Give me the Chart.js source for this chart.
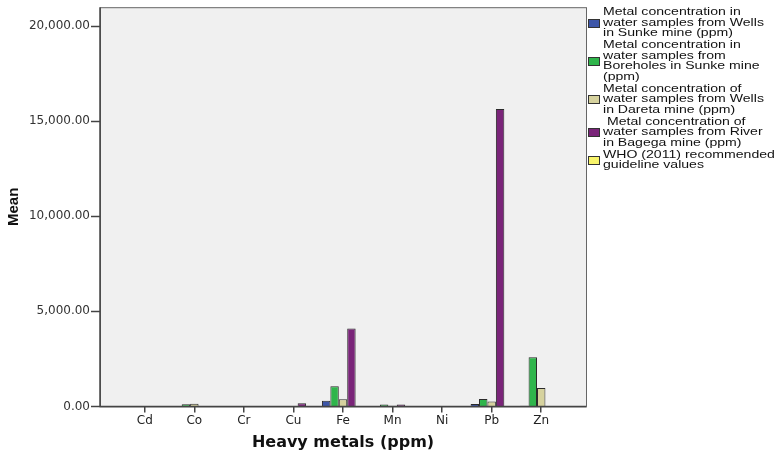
<!DOCTYPE html>
<html>
<head>
<meta charset="utf-8">
<script src="https://cdn.jsdelivr.net/npm/chart.js@4.4.0/dist/chart.umd.min.js"></script>
<style>
  html, body { margin: 0; padding: 0; background: #fff; }
  #wrap { width: 774px; height: 454px; }
</style>
</head>
<body>
<div id="wrap"><canvas id="metalChart"></canvas></div>
<script>
// Categories and series (mean, ppm)
var metals = ['Cd', 'Co', 'Cr', 'Cu', 'Fe', 'Mn', 'Ni', 'Pb', 'Zn'];
var wellsSunke = [1, 20, 5, 5, 300, 20, 5, 120, 30];
var boreholesSunke = [2, 110, 10, 10, 1060, 100, 5, 390, 2580];
var wellsDareta = [2, 140, 10, 10, 380, 30, 5, 260, 970];
var riverBagega = [3, 10, 5, 170, 4100, 100, 10, 15650, 20];
var whoGuideline = [0.003, 0.05, 0.05, 2, 0.3, 0.4, 0.07, 0.01, 3];

var seriesLabels = [
    ['Metal concentration in', 'water samples from Wells', 'in Sunke mine (ppm)'],
    ['Metal concentration in', 'water samples from', 'Boreholes in Sunke mine', '(ppm)'],
    ['Metal concentration of', 'water samples from Wells', 'in Dareta mine (ppm)'],
    [' Metal concentration of', 'water samples from River', 'in Bagega mine (ppm)'],
    ['WHO (2011) recommended', 'guideline values']
];
var seriesColors = ['#3d56a8', '#2fb54b', '#d6d29e', '#7a2479', '#f8f46a'];
var yTicks = [0, 5000, 10000, 15000, 20000];

var FRAME_PAD = 20; // grey plot frame extends past the category area

// Grey frame, axis lines and y tick marks
var framePlugin = {
    id: 'frame',
    beforeDraw: function (chart) {
        var ctx = chart.ctx, a = chart.chartArea;
        var left = a.left - FRAME_PAD, right = a.right + FRAME_PAD;
        ctx.save();
        ctx.fillStyle = '#f0f0f0';
        ctx.fillRect(left, a.top, right - left, a.bottom - a.top);
        ctx.strokeStyle = '#666';
        ctx.lineWidth = 1;
        ctx.strokeRect(left + 0.5, a.top + 0.5, right - left, a.bottom - a.top);
        ctx.restore();
    },
    afterDraw: function (chart) {
        var ctx = chart.ctx, a = chart.chartArea;
        var left = a.left - FRAME_PAD, right = a.right + FRAME_PAD;
        var y = chart.scales.y;
        ctx.save();
        ctx.strokeStyle = '#444';
        ctx.lineWidth = 1.5;
        ctx.beginPath();
        ctx.moveTo(left, a.top);
        ctx.lineTo(left, a.bottom);
        ctx.lineTo(right, a.bottom);
        ctx.stroke();
        yTicks.forEach(function (v) {
            var py = Math.round(y.getPixelForValue(v)) + 0.5;
            ctx.beginPath();
            ctx.moveTo(left - 9, py);
            ctx.lineTo(left, py);
            ctx.stroke();
        });
        ctx.restore();
    }
};

// Legend on the right, multi-line entries
var legendPlugin = {
    id: 'sideLegend',
    afterDraw: function (chart) {
        var ctx = chart.ctx;
        var stretch = 1.28;
        var lineH = 10.5;
        var y = 12;
        ctx.save();
        ctx.font = '11px "Liberation Sans", Arial, sans-serif';
        ctx.textBaseline = 'middle';
        chart.data.datasets.forEach(function (ds, i) {
            var lines = seriesLabels[i];
            var mid = y + (lines.length - 1) * lineH / 2;
            ctx.fillStyle = ds.backgroundColor;
            ctx.fillRect(588, Math.round(mid - 4), 12, 9);
            ctx.strokeStyle = '#333';
            ctx.lineWidth = 1;
            ctx.strokeRect(588.5, Math.round(mid - 4) + 0.5, 11, 8);
            ctx.fillStyle = '#111';
            ctx.save();
            ctx.scale(stretch, 1);
            lines.forEach(function (t, k) {
                ctx.fillText(t, 603 / stretch, y + k * lineH);
            });
            ctx.restore();
            y += lines.length * lineH + 1.5;
        });
        ctx.restore();
    }
};

var datasets = [wellsSunke, boreholesSunke, wellsDareta, riverBagega, whoGuideline].map(function (d, i) {
    return {
        label: seriesLabels[i].join(' '),
        data: d,
        backgroundColor: seriesColors[i],
        borderColor: '#2a2a2a',
        borderWidth: 1,
        categoryPercentage: 0.85,
        barPercentage: 1
    };
});

var ctx = document.getElementById('metalChart').getContext('2d');
var metalChart = new Chart(ctx, {
    type: 'bar',
    data: { labels: metals, datasets: datasets },
    plugins: [framePlugin, legendPlugin],
    options: {
        responsive: true,
        maintainAspectRatio: false,
        animation: false,
        layout: { padding: { top: 5, right: 208, left: 0, bottom: 0 } },
        plugins: {
            legend: { display: false },
            tooltip: { enabled: false }
        },
        scales: {
            x: {
                offset: true,
                border: { display: false },
                grid: { display: true, drawOnChartArea: false, offset: false, tickLength: 6, color: '#444', lineWidth: 1.5 },
                ticks: { color: '#222', padding: 1, font: { family: 'DejaVu Sans', size: 12 } },
                title: {
                    display: true,
                    text: 'Heavy metals (ppm)',
                    color: '#111',
                    font: { family: 'DejaVu Sans', size: 16, weight: 'bold' },
                    padding: { top: 4, bottom: 2 }
                }
            },
            y: {
                min: 0,
                max: 21000,
                border: { display: false },
                // tick marks drawn by the frame plugin; tickLength only shifts the labels
                grid: { display: false, drawTicks: true, tickLength: 30 },
                afterFit: function (scale) { scale.width = 120; },
                afterBuildTicks: function (scale) {
                    scale.ticks = yTicks.map(function (v) { return { value: v }; });
                },
                ticks: {
                    color: '#333',
                    padding: 0,
                    font: { family: 'DejaVu Sans', size: 12 },
                    callback: function (v) {
                        return v.toLocaleString('en-US', { minimumFractionDigits: 2, maximumFractionDigits: 2 });
                    }
                },
                title: {
                    display: true,
                    text: 'Mean',
                    color: '#111',
                    font: { family: 'Liberation Sans', size: 15, weight: 'bold' },
                    padding: { top: 5, bottom: 0 }
                }
            }
        }
    }
});
</script>
</body>
</html>
